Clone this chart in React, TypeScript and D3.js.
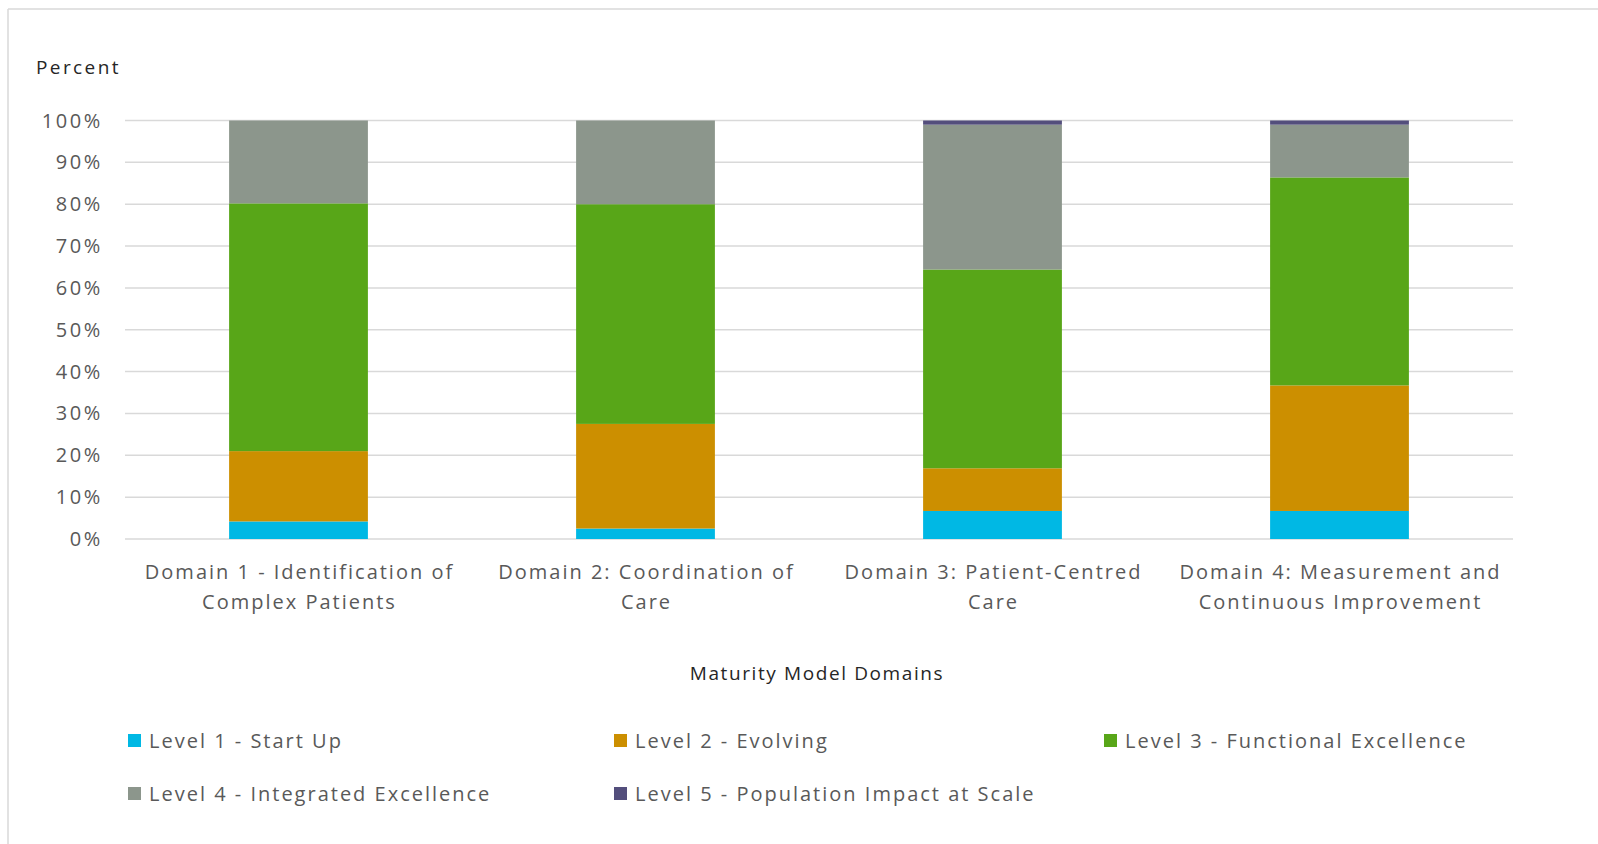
import React from "react";
import * as d3 from "d3";

const categories = [
  ["Domain 1 - Identification of", "Complex Patients"],
  ["Domain 2: Coordination of", "Care"],
  ["Domain 3: Patient-Centred", "Care"],
  ["Domain 4: Measurement and", "Continuous Improvement"],
];
const seriesNames = [
  "Level 1 - Start Up",
  "Level 2 - Evolving",
  "Level 3 - Functional Excellence",
  "Level 4 - Integrated Excellence",
  "Level 5 - Population Impact at Scale",
];
const level1 = [4.2, 2.5, 6.7, 6.7];
const level2 = [16.8, 25.0, 10.2, 30.0];
const level3 = [59.2, 52.5, 47.5, 49.7];
const level4 = [19.8, 20.0, 34.6, 12.6];
const level5 = [0, 0, 1.0, 1.0];
const colors = ["#00B8E4", "#CC8F00", "#58A618", "#8C968C", "#534E7C"];
const yTicks = [0, 10, 20, 30, 40, 50, 60, 70, 80, 90, 100];

const W = 1598;
const H = 844;
const FONT = "'Open Sans', 'DejaVu Sans', sans-serif";
const LS = 2;

export default function App() {
  const left = 125;
  const right = 1513;
  const top = 120.5;
  const bottom = 539;
  const x = d3.scaleBand<number>().domain(d3.range(categories.length)).range([left, right]).padding(0);
  const y = d3.scaleLinear().domain([0, 100]).range([bottom, top]);
  const barW = x.bandwidth() * 0.4;

  const rows = categories.map((_, i) => ({
    i,
    s0: level1[i],
    s1: level2[i],
    s2: level3[i],
    s3: level4[i],
    s4: level5[i],
  }));
  const stack = d3.stack<any>().keys(["s0", "s1", "s2", "s3", "s4"]);
  const stacked = stack(rows);

  const legendCols = [128, 614, 1104];
  const legendRows = [741, 794];

  return (
    <div style={{ position: "fixed", left: 0, top: 0 }}>
      <svg width={W} height={H} style={{ display: "block", background: "#fff" }}>
        <line x1={8} y1={9} x2={W} y2={9} stroke="#d9d9d9" strokeWidth={1.5} />
        <line x1={8} y1={9} x2={8} y2={H} stroke="#d9d9d9" strokeWidth={1.5} />
        {yTicks.map((t) => (
          <g key={t}>
            <line x1={left} x2={right} y1={y(t)} y2={y(t)} stroke="#d9d9d9" strokeWidth={1.5} />
            <text x={103} y={y(t)} dy="0.35em" textAnchor="end" fontFamily={FONT} fontSize={20} letterSpacing={2.6} fill="#595959">
              {t}%
            </text>
          </g>
        ))}
        {stacked.map((layer, si) =>
          layer.map((d, i) => {
            const h = y(d[0]) - y(d[1]);
            if (h <= 0) return null;
            return (
              <rect
                key={si + "-" + i}
                x={(x(i) as number) + (x.bandwidth() - barW) / 2}
                y={y(d[1])}
                width={barW}
                height={h}
                fill={colors[si]}
              />
            );
          })
        )}
        {categories.map((lines, i) => (
          <text
            key={i}
            textAnchor="middle"
            fontFamily={FONT}
            fontSize={20}
            letterSpacing={LS}
            fill="#595959"
          >
            {lines.map((l, k) => (
              <tspan key={k} x={(x(i) as number) + x.bandwidth() / 2 + 1} y={572 + k * 30} dy="0.35em">
                {l}
              </tspan>
            ))}
          </text>
        ))}
        <text x={36} y={67} dy="0.35em" fontFamily={FONT} fontSize={19} letterSpacing={2.4} fill="#262626">
          Percent
        </text>
        <text x={817} y={673} dy="0.35em" textAnchor="middle" fontFamily={FONT} fontSize={19} letterSpacing={1.6} fill="#262626">
          Maturity Model Domains
        </text>
        {seriesNames.map((n, si) => {
          const cx = legendCols[si % 3];
          const cy = legendRows[Math.floor(si / 3)];
          return (
            <g key={n}>
              <rect x={cx} y={cy - 7} width={13} height={13} fill={colors[si]} />
              <text x={cx + 21} y={cy} dy="0.35em" fontFamily={FONT} fontSize={20} letterSpacing={LS} fill="#595959">
                {n}
              </text>
            </g>
          );
        })}
      </svg>
    </div>
  );
}
